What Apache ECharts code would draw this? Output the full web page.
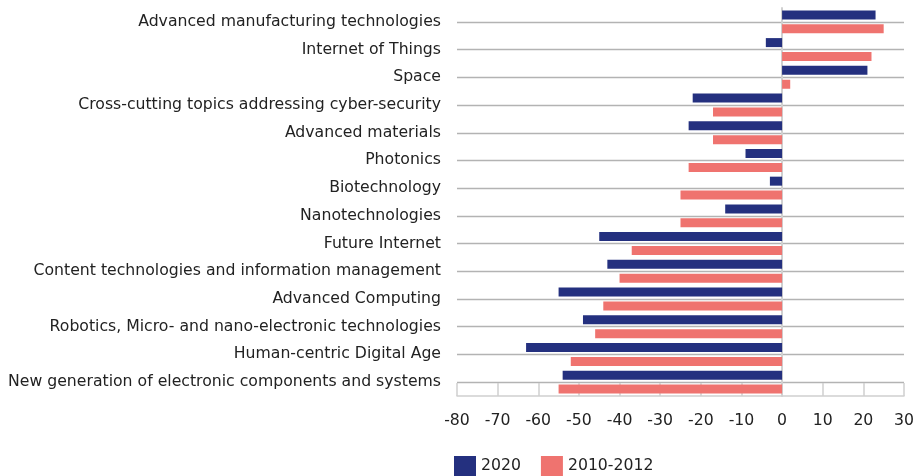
<!DOCTYPE html>
<html>
<head>
<meta charset="utf-8">
<script src="https://cdn.jsdelivr.net/npm/echarts@6/dist/echarts.min.js"></script>
<style>html,body{margin:0;padding:0;background:#fff}#c{width:918px;height:476px}</style>
</head>
<body>
<div id="c"></div>
<script>
const categories = [
  "Advanced manufacturing technologies",
  "Internet of Things",
  "Space",
  "Cross-cutting topics addressing cyber-security",
  "Advanced materials",
  "Photonics",
  "Biotechnology",
  "Nanotechnologies",
  "Future Internet",
  "Content technologies and information management",
  "Advanced Computing",
  "Robotics, Micro- and nano-electronic technologies",
  "Human-centric Digital Age",
  "New generation of electronic components and systems"
];
const values2020 = [23, -4, 21, -22, -23, -9, -3, -14, -45, -43, -55, -49, -63, -54];
const values2010_2012 = [25, 22, 2, -17, -17, -23, -25, -25, -37, -40, -44, -46, -52, -55];
const seriesNames = ["2020", "2010-2012"];
const xTicks = { min: -80, max: 30, interval: 10 };

const FONT = "DejaVu Sans";
const chart = echarts.init(document.getElementById('c'));
chart.setOption({
  animation: false,
  textStyle: { fontFamily: FONT },
  grid: [
    { left: 457, right: 14, top: 8, bottom: 80 },
    { left: 457, right: 14, top: 22, bottom: 94 }
  ],
  legend: {
    data: seriesNames,
    left: 449,
    top: 451,
    itemWidth: 22,
    itemHeight: 20,
    itemGap: 20,
    itemStyle: { borderWidth: 0 },
    icon: 'rect',
    textStyle: { fontFamily: FONT, fontSize: 15.7, color: '#222' }
  },
  xAxis: [
    {
      gridIndex: 0,
      type: 'value',
      min: xTicks.min, max: xTicks.max, interval: xTicks.interval,
      axisLine: { show: true, lineStyle: { color: '#cfcfcf', width: 1.5 } },
      axisTick: { show: true, inside: true, length: 13, lineStyle: { color: '#cfcfcf', width: 1.5 } },
      axisLabel: { fontFamily: FONT, fontSize: 15.7, color: '#222', margin: 17 },
      splitLine: { show: false }
    },
    {
      gridIndex: 1,
      type: 'value',
      min: xTicks.min, max: xTicks.max,
      show: false
    }
  ],
  yAxis: [
    {
      gridIndex: 0,
      type: 'category',
      data: categories,
      inverse: true,
      axisLine: { show: true, onZero: true, lineStyle: { color: '#d0d0d0', width: 2 } },
      axisTick: { show: false },
      axisLabel: { fontFamily: FONT, fontSize: 15.7, color: '#222', margin: 16, interval: 0 },
      splitLine: { show: false }
    },
    {
      gridIndex: 1,
      type: 'category',
      data: categories,
      inverse: true,
      boundaryGap: false,
      axisLine: { show: false },
      axisTick: { show: false },
      axisLabel: { show: false },
      splitLine: { show: true, interval: 0, lineStyle: { color: '#b3b3b3', width: 1.3 } }
    }
  ],
  series: [
    {
      name: seriesNames[0], type: 'bar', xAxisIndex: 0, yAxisIndex: 0,
      data: values2020, barWidth: 9, barGap: '55%',
      itemStyle: { color: '#24307f' }, z: 3
    },
    {
      name: seriesNames[1], type: 'bar', xAxisIndex: 0, yAxisIndex: 0,
      data: values2010_2012, barWidth: 9, barGap: '55%',
      itemStyle: { color: '#ef736f' }, z: 3
    }
  ]
});
</script>
</body>
</html>
